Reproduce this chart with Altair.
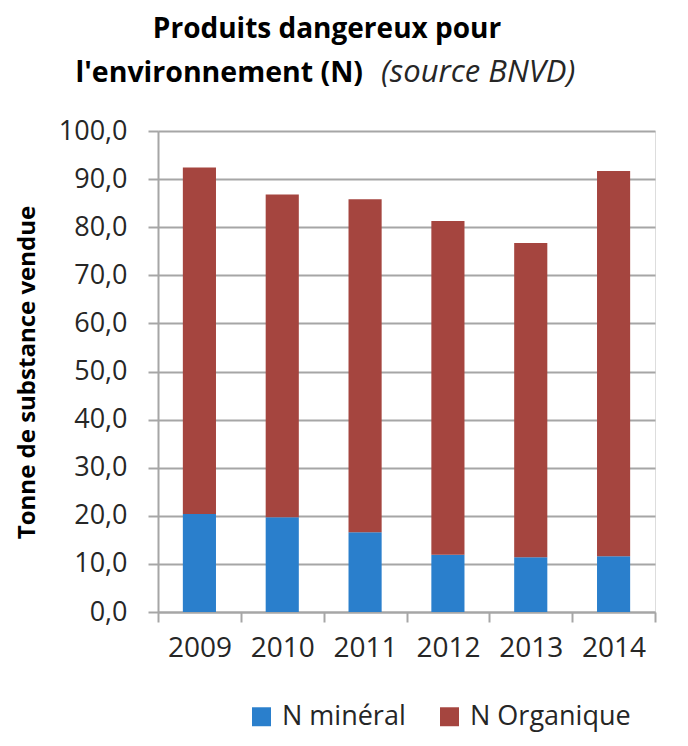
import altair as alt
import pandas as pd

years = ["2009", "2010", "2011", "2012", "2013", "2014"]
mineral = [20.4, 19.7, 16.6, 11.9, 11.4, 11.6]
organique = [72.0, 67.1, 69.2, 69.4, 65.3, 80.1]
series = ["N minéral", "N Organique"]
colors = ["#2A7FCC", "#A5453F"]
y_ticks = [0, 10, 20, 30, 40, 50, 60, 70, 80, 90, 100]

title_line1 = "Produits dangereux pour"
title_line2 = "l'environnement (N)"
title_source = "(source BNVD)"
y_title = "Tonne de substance vendue"

rows = []
for i, y in enumerate(years):
    rows.append({"annee": y, "serie": series[0], "valeur": mineral[i], "ordre": 0})
    rows.append({"annee": y, "serie": series[1], "valeur": organique[i], "ordre": 1})
df = pd.DataFrame(rows)

FONT = "Open Sans"
GRID = "#A6A6A6"

bars = alt.Chart(df).mark_bar(width=alt.RelativeBandSize(0.4)).encode(
    x=alt.X(
        "annee:N",
        sort=years,
        scale=alt.Scale(paddingInner=0, paddingOuter=0),
        axis=alt.Axis(
            title=None, labelAngle=0, tickBand="extent", grid=False,
            labelFontSize=28, labelFont=FONT, labelColor="#262626",
            labelPadding=12, tickSize=10, tickColor=GRID, tickWidth=2,
            domainColor=GRID, domainWidth=2,
        ),
    ),
    y=alt.Y(
        "valeur:Q",
        stack="zero",
        scale=alt.Scale(domain=[0, 100], nice=False),
        axis=alt.Axis(
            values=y_ticks,
            labelExpr="replace(format(datum.value, '.1f'), '.', ',')",
            title=y_title, titleFont=FONT, titleFontSize=24, titleFontWeight="bold",
            titleColor="#000000", titleX=-131, titleY=241, titleAngle=270,
            titleAlign="center", titleBaseline="middle",
            labelFontSize=27, labelFont=FONT, labelColor="#262626",
            labelPadding=21, tickSize=10, tickColor=GRID, tickWidth=2,
            domainColor=GRID, domainWidth=2,
            grid=True, gridColor=GRID, gridWidth=2,
        ),
    ),
    color=alt.Color(
        "serie:N",
        scale=alt.Scale(domain=series, range=colors),
        legend=alt.Legend(
            title=None, orient="none", legendX=90, legendY=572,
            direction="horizontal", symbolType="square", symbolSize=360,
            symbolStrokeWidth=0, labelFont=FONT, labelFontSize=27,
            labelColor="#262626", labelOffset=7, columnPadding=30,
            labelLimit=400, symbolOpacity=1,
        ),
    ),
    order=alt.Order("ordre:Q"),
)

t1 = alt.Chart(pd.DataFrame({"t": [title_line1]})).mark_text(
    font=FONT, fontSize=28, fontWeight="bold", align="center", baseline="alphabetic", color="#000000"
).encode(text="t:N", x=alt.value(169), y=alt.value(-93))

t2 = alt.Chart(pd.DataFrame({"t": [title_line2]})).mark_text(
    font=FONT, fontSize=28.5, fontWeight="bold", align="right", baseline="alphabetic", color="#000000"
).encode(text="t:N", x=alt.value(205), y=alt.value(-49))

t3 = alt.Chart(pd.DataFrame({"t": [title_source]})).mark_text(
    font=FONT, fontSize=31, fontStyle="italic", align="left", baseline="alphabetic", color="#262626"
).encode(text="t:N", x=alt.value(223), y=alt.value(-49))

chart = alt.layer(bars, t1, t2, t3).properties(
    width=497, height=481,
    autosize=alt.AutoSizeParams(type="none"),
    padding={"left": 150, "top": 123, "right": 25, "bottom": 133},
).configure_view(stroke=None).configure(background="#FFFFFF")

chart.save("out.html", embed_options={"renderer": "svg", "actions": False})
